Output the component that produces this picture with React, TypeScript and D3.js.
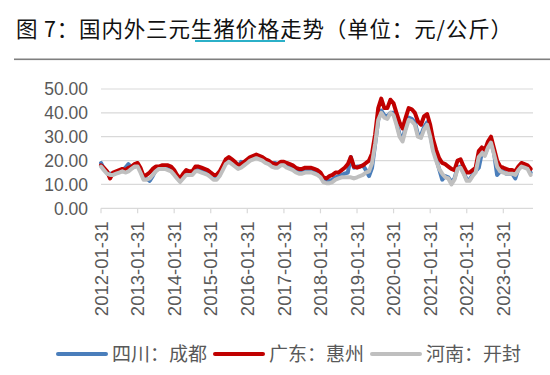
import React from 'react';
import * as d3 from 'd3';

const width = 550;
const height = 375;

const seriesNames = ['四川：成都', '广东：惠州', '河南：开封'];
const seriesColors = ['#4a7ebb', '#c00000', '#bfbfbf'];
const yTicks = [0, 10, 20, 30, 40, 50];
const xTickLabels = [
  '2012-01-31', '2013-01-31', '2014-01-31', '2015-01-31', '2016-01-31', '2017-01-31',
  '2018-01-31', '2019-01-31', '2020-01-31', '2021-01-31', '2022-01-31', '2023-01-31',
];

// monthly prices, 2012-01 .. 2023-10, one row per year
const chengdu = [
  19, 16.5, 15, 14.5, 14.5, 15, 15.5, 16, 17, 18.5, 17, 17.5,
  18.5, 16, 12.5, 12.5, 11.5, 13.5, 16, 17, 17, 17, 16.5, 16,
  15, 13, 11.5, 13, 14.5, 14.5, 14.5, 16, 16.5, 16, 15, 14.5,
  14.5, 12.5, 12.5, 14, 17, 19.5, 20.5, 19.5, 18.5, 17.5, 19.5, 19,
  20, 21, 21.5, 22, 21.5, 21, 20, 19.5, 18.5, 19, 18.5, 19,
  19, 18, 17.5, 17, 16, 15.5, 15.5, 16, 16, 16, 15.5, 15,
  14, 12, 11.5, 11.5, 12, 13, 13.5, 14, 14.5, 15, 21.5, 17,
  17.5, 17.5, 18, 16, 13.5, 17, 27, 37, 41, 39, 38.5, 40,
  40, 36, 31, 29, 34, 38, 37.5, 36, 31, 30.5, 34, 36,
  31, 25, 21, 16.5, 12, 13.5, 13, 11, 12.5, 17, 17.5, 15,
  12, 12, 14, 15.5, 17, 23, 22.5, 26, 28, 23, 14, 15.5,
  15.5, 14.5, 14.5, 14.5, 12.5, 16.5, 18, 17.5, 17, 15,
];

const huizhou = [
  18, 17, 15.5, 12.5, 15, 15.5, 16, 16.5, 16, 17, 17.5, 18.5,
  19, 17, 13.5, 14, 15, 16.5, 17.5, 17.5, 18, 18, 18, 17.5,
  16, 14, 12.5, 14.5, 16, 15.5, 15.5, 17.5, 17.5, 17, 16.5, 16,
  15, 14, 14, 15.5, 18, 20.5, 21.5, 20.5, 19.5, 18, 18.5, 19.5,
  20.5, 21.5, 22, 22.5, 22, 21.5, 20.5, 20, 19, 18.5, 18.5, 19.5,
  19.5, 19, 18.5, 18, 17, 16.5, 16.5, 17, 17, 17, 16.5, 16,
  15, 13, 12.5, 13.5, 14, 15, 15, 16, 17, 18.5, 21.5, 17.5,
  17, 17.5, 18, 19, 20, 23, 31, 42, 46, 42, 42, 45.5,
  44, 40, 36, 33.5, 38, 42, 41.5, 40, 36.5, 35, 38.5, 39.5,
  35, 29, 24.5, 21, 19, 18.5, 17.5, 16.5, 16, 20, 20.5, 17.5,
  15, 15, 16, 17, 24, 25.5, 24.5, 28, 30, 25, 20, 17.5,
  17, 16.5, 16, 16, 15.5, 17.5, 19, 18.5, 18, 16.5,
];

const kaifeng = [
  17.5, 16, 14.5, 14, 14, 14.5, 15, 15.5, 15, 15.5, 16.5, 17.5,
  17.5, 15, 12, 12, 12.5, 14, 15.5, 16.5, 16.5, 16.5, 16, 15.5,
  14, 12.5, 11, 12.5, 14, 14, 14, 15.5, 15.5, 15, 14.5, 14,
  13, 12, 12, 13.5, 16, 18.5, 19.5, 18.5, 17.5, 16.5, 17, 18,
  19, 20, 20.5, 21, 20.5, 20, 19, 18.5, 17.5, 17, 17, 18,
  18, 17, 16.5, 16, 15, 14.5, 14.5, 15, 15, 15, 14.5, 14,
  13, 11, 10.5, 10.5, 11, 12, 12.5, 13, 13, 13, 13, 12.5,
  13, 13.5, 14, 15, 15.5, 19, 27, 37, 40, 38, 37.5, 40,
  39, 35, 30, 28, 33, 37, 36.5, 35, 30, 29.5, 33, 35,
  30, 24, 20, 16.5, 14.5, 13, 12.5, 10, 12, 16.5, 17, 14.5,
  11.5, 11.5, 13.5, 15, 21.5, 23, 22, 25.5, 27.5, 22.5, 17.5, 15.5,
  15, 14.5, 14.5, 14.5, 14, 16, 17.5, 17, 16.5, 14,
];

const allSeries = [chengdu, huizhou, kaifeng];
// last day of each month starting 2012-01
const dates = huizhou.map((_, i) => new Date(2012, i + 1, 0));

const numFont = '"Liberation Sans", Arial, sans-serif';
const cjkFont = '"Noto Sans CJK SC", sans-serif';
const textGrey = '#595959';

const App = () => {
  const plotLeft = 101;
  const plotRight = 533;

  const xScale = d3.scaleTime()
    .domain([new Date(2012, 0, 31), new Date(2023, 0, 31)])
    .range([plotLeft, 503.3]);

  const yScale = d3.scaleLinear()
    .domain([0, 50])
    .range([208.3, 89]);

  const line = d3.line<number>()
    .x((_, i) => xScale(dates[i]))
    .y(d => yScale(d))
    .curve(d3.curveLinear);

  const legendX = [58, 215, 372];

  return (
    <svg width={width} height={height} style={{ position: 'absolute', left: 0, top: 0, background: '#fff' }}>
      <text x={16} y={37} fontFamily={cjkFont} fontSize={21.5} fill="#111" textLength={496} lengthAdjust="spacing">
        图 7：国内外三元生猪价格走势（单位：元/公斤）
      </text>
      <rect x={195} y={40} width={90} height={2} fill="#2bb0c8" />
      <rect x={14} y={58.5} width={536} height={1.6} fill="#7f7f7f" />

      {yTicks.map(t => (
        <g key={t}>
          <line x1={plotLeft} x2={plotRight} y1={yScale(t)} y2={yScale(t)} stroke="#d9d9d9" strokeWidth={1.2} />
          <text x={88} y={yScale(t)} dy="0.36em" textAnchor="end" fontFamily={numFont} fontSize={17.5} fill={textGrey}>
            {t.toFixed(2)}
          </text>
        </g>
      ))}

      {xTickLabels.map(lbl => {
        const x = xScale(d3.timeParse('%Y-%m-%d')(lbl) as Date);
        return (
          <g key={lbl}>
            <line x1={x} x2={x} y1={yScale(0)} y2={yScale(0) + 5} stroke="#d9d9d9" strokeWidth={1.2} />
            <text
              transform={`translate(${x},${221.5}) rotate(-90)`}
              dy="0.36em"
              textAnchor="end"
              fontFamily={numFont}
              fontSize={18.5}
              fill={textGrey}
            >
              {lbl}
            </text>
          </g>
        );
      })}

      {allSeries.map((s, i) => (
        <path
          key={seriesNames[i]}
          d={line(s) || ''}
          fill="none"
          stroke={seriesColors[i]}
          strokeWidth={4}
          strokeLinejoin="round"
          strokeLinecap="round"
        />
      ))}

      {seriesNames.map((name, i) => (
        <g key={name}>
          <line x1={legendX[i]} x2={legendX[i] + 48} y1={354} y2={354} stroke={seriesColors[i]} strokeWidth={4} strokeLinecap="round" />
          <text x={legendX[i] + 54} y={354} dy="0.36em" fontFamily={cjkFont} fontSize={19} fill={textGrey}>
            {name}
          </text>
        </g>
      ))}
    </svg>
  );
};

export default App;
